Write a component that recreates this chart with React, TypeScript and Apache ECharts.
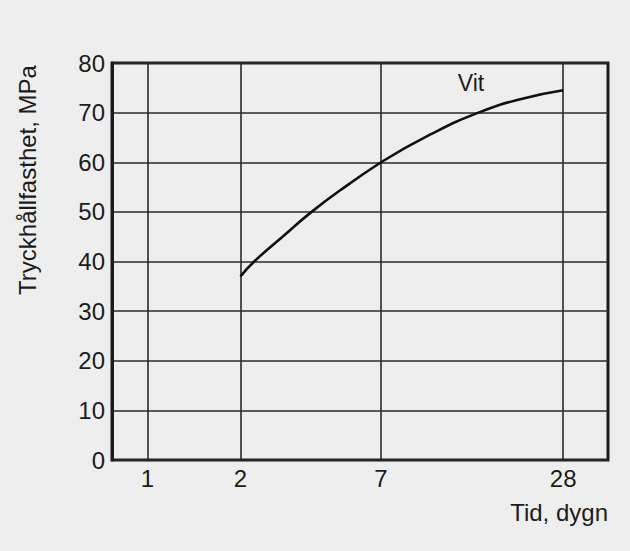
import React, { useEffect, useRef } from "react";
import * as echarts from "echarts";

// ---- data ----
const days = [2, 2.26, 2.91, 3.77, 5.16, 7, 10.2, 14.7, 20.2, 28];
const strength = [37, 40, 45, 50, 55.3, 60, 65.6, 70, 72.7, 74.5];
// day-axis breakpoints of the (hand-drawn) time scale and its tick labels
const xSegments = [
  { min: 0.769, max: 2, ticks: [1] },
  { min: 2, max: 7, ticks: [2] },
  { min: 7, max: 39.4, ticks: [7, 28] },
];
const yMin = 0;
const yMax = 80;
const yInterval = 10;
const seriesName = "Vit";
const yTitle = "Tryckhållfasthet, MPa";
const xTitle = "Tid, dygn";

const FONT = "'Liberation Sans', Arial, Helvetica, sans-serif";
const INK = "#1c1c1c";
const GRIDLINE = "#2a2a2a";

// layout (pixels)
const PLOT_TOP = 63;
const PLOT_BOTTOM = 91;
const SEG_LEFT = [112, 240.5, 381];
const SEG_WIDTH = [128.5, 140.5, 227];

export default function App() {
  const ref = useRef<HTMLDivElement>(null);

  useEffect(() => {
    if (!ref.current) return;
    const chart = echarts.init(ref.current, undefined, { renderer: "svg" });

    const grids: any[] = xSegments.map((_, i) => ({
      left: SEG_LEFT[i],
      width: SEG_WIDTH[i],
      top: PLOT_TOP,
      bottom: PLOT_BOTTOM,
      show: false,
    }));
    // overlay grid: frame + horizontal grid + y labels
    grids.push({
      left: 112,
      right: 22,
      top: PLOT_TOP,
      bottom: PLOT_BOTTOM,
      show: true,
      borderColor: INK,
      borderWidth: 3,
      backgroundColor: "transparent",
    });
    const overlay = xSegments.length;

    const xAxes: any[] = xSegments.map((s, i) => ({
      type: "log",
      logBase: 10,
      gridIndex: i,
      min: s.min,
      max: s.max,
      axisLine: { show: false },
      axisTick: { show: false, customValues: s.ticks },
      axisLabel: {
        customValues: s.ticks,
        color: INK,
        fontSize: 24,
        fontFamily: FONT,
        margin: 6,
        formatter: (v: number) => String(Math.round(v)),
      },
      splitLine: { show: true, lineStyle: { color: GRIDLINE, width: 1.6 } },
      minorSplitLine: { show: false },
    }));
    xAxes.push({
      type: "value",
      gridIndex: overlay,
      min: 0,
      max: 1,
      show: false,
    });

    const yAxes: any[] = xSegments.map((_, i) => ({
      type: "value",
      gridIndex: i,
      min: yMin,
      max: yMax,
      interval: yInterval,
      show: false,
    }));
    yAxes.push({
      type: "value",
      gridIndex: overlay,
      min: yMin,
      max: yMax,
      interval: yInterval,
      axisLine: { show: true, lineStyle: { color: INK, width: 3 } },
      axisTick: { show: false },
      axisLabel: {
        color: INK,
        fontSize: 24,
        fontFamily: FONT,
        margin: 7,
      },
      splitLine: { show: true, lineStyle: { color: GRIDLINE, width: 1.6 } },
    });

    const points = days.map((d, i) => [d, strength[i]]);
    const series: any[] = xSegments
      .map((s, i) => ({
        name: seriesName,
        type: "line",
        xAxisIndex: i,
        yAxisIndex: i,
        smooth: true,
        showSymbol: false,
        data: points.filter((p) => p[0] >= s.min && p[0] <= s.max),
        lineStyle: { color: "#111111", width: 2.6 },
      }))
      .filter((s) => s.data.length > 1);

    const option: any = {
      animation: false,
      backgroundColor: "#eeeeee",
      grid: grids,
      xAxis: xAxes,
      yAxis: yAxes,
      series,
      graphic: [
        {
          type: "text",
          x: 27,
          y: 180,
          rotation: Math.PI / 2,
          style: {
            text: yTitle,
            fontSize: 24,
            fontFamily: FONT,
            fill: INK,
            textAlign: "center",
            textVerticalAlign: "middle",
          },
        },
        {
          type: "text",
          x: 608,
          y: 512,
          style: {
            text: xTitle,
            fontSize: 24,
            fontFamily: FONT,
            fill: INK,
            textAlign: "right",
            textVerticalAlign: "middle",
          },
        },
        {
          type: "text",
          x: 471,
          y: 83,
          style: {
            text: seriesName,
            fontSize: 23,
            fontFamily: FONT,
            fill: INK,
            textAlign: "center",
            textVerticalAlign: "middle",
          },
        },
      ],
    };
    chart.setOption(option);
    return () => chart.dispose();
  }, []);

  return (
    <div
      ref={ref}
      style={{ position: "absolute", left: 0, top: 0, width: 630, height: 551 }}
    />
  );
}
